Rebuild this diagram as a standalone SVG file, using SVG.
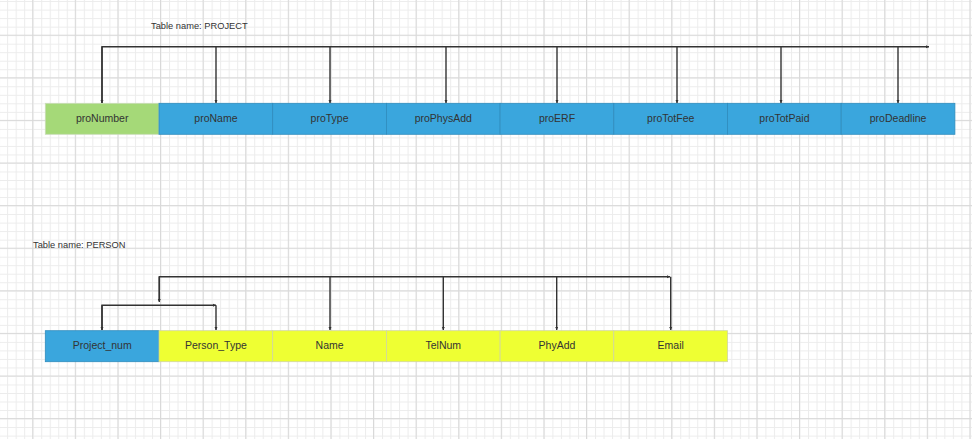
<svg xmlns="http://www.w3.org/2000/svg" width="972" height="439" viewBox="0 0 972 439">
  <defs>
    <pattern id="gridMinor" patternUnits="userSpaceOnUse" x="7.14" y="1.1" width="8.52" height="8.52">
      <path d="M0 0.5H8.52M0.5 0V8.52" fill="none" stroke="#ececec" stroke-width="1"/>
    </pattern>
    <pattern id="gridMajor" patternUnits="userSpaceOnUse" x="32.2" y="34.7" width="42.6" height="42.6">
      <path d="M0 0.5H42.6M0.5 0V42.6" fill="none" stroke="#d9d9d9" stroke-width="1"/>
    </pattern>
    <marker id="arrow" markerUnits="userSpaceOnUse" markerWidth="4" markerHeight="4" refX="3" refY="2" orient="auto">
      <path d="M0 0.5L3 2L0 3.5Z" fill="#333"/>
    </marker>
  </defs>
  <style>
    .cell text { font-family: "Liberation Sans", Arial, sans-serif; font-size: 10.5px; fill: #333; text-anchor: middle; dominant-baseline: central; }
    .blue { fill: #3aa6dd; stroke: #2f8cbd; stroke-width: 0.8; }
    .green { fill: #a5d978; stroke: #c9dcb8; stroke-width: 0.8; }
    .yellow { fill: #eeff33; stroke: #d0d6a0; stroke-width: 0.8; }
    .title { font-family: "Liberation Sans", Arial, sans-serif; font-size: 9.3px; fill: #333; }
    .link { fill: none; stroke: #333; stroke-width: 1.4; }
    .link.arrowed { marker-end: url(#arrow); }
  </style>

  <!-- background grid -->
  <rect width="972" height="439" fill="#ffffff"/>
  <rect width="972" height="439" fill="url(#gridMinor)"/>
  <rect width="972" height="439" fill="url(#gridMajor)"/>

  <!-- table titles -->
  <text class="title" x="151" y="29">Table name: PROJECT</text>
  <text class="title" x="33" y="247.5">Table name: PERSON</text>

  <!-- PROJECT table columns -->
  <g id="proNumber" class="cell"><rect class="green" x="45.3" y="103.3" width="113.7" height="31"/><text x="102.2" y="117.5">proNumber</text></g>
  <g id="proName" class="cell"><rect class="blue" x="159" y="103.3" width="113.7" height="31"/><text x="215.9" y="117.5">proName</text></g>
  <g id="proType" class="cell"><rect class="blue" x="272.7" y="103.3" width="113.7" height="31"/><text x="329.6" y="117.5">proType</text></g>
  <g id="proPhysAdd" class="cell"><rect class="blue" x="386.4" y="103.3" width="113.7" height="31"/><text x="443.3" y="117.5">proPhysAdd</text></g>
  <g id="proERF" class="cell"><rect class="blue" x="500.1" y="103.3" width="113.7" height="31"/><text x="557" y="117.5">proERF</text></g>
  <g id="proTotFee" class="cell"><rect class="blue" x="613.8" y="103.3" width="113.7" height="31"/><text x="670.7" y="117.5">proTotFee</text></g>
  <g id="proTotPaid" class="cell"><rect class="blue" x="727.5" y="103.3" width="113.7" height="31"/><text x="784.4" y="117.5">proTotPaid</text></g>
  <g id="proDeadline" class="cell"><rect class="blue" x="841.2" y="103.3" width="113.7" height="31"/><text x="898.1" y="117.5">proDeadline</text></g>

  <!-- PERSON table columns -->
  <g id="Project_num" class="cell"><rect class="blue" x="45.3" y="330.7" width="113.7" height="31"/><text x="102.2" y="345">Project_num</text></g>
  <g id="Person_Type" class="cell"><rect class="yellow" x="159" y="330.7" width="113.7" height="31"/><text x="215.9" y="345">Person_Type</text></g>
  <g id="Name" class="cell"><rect class="yellow" x="272.7" y="330.7" width="113.7" height="31"/><text x="329.6" y="345">Name</text></g>
  <g id="TelNum" class="cell"><rect class="yellow" x="386.4" y="330.7" width="113.7" height="31"/><text x="443.3" y="345">TelNum</text></g>
  <g id="PhyAdd" class="cell"><rect class="yellow" x="500.1" y="330.7" width="113.7" height="31"/><text x="557" y="345">PhyAdd</text></g>
  <g id="Email" class="cell"><rect class="yellow" x="613.8" y="330.7" width="113.7" height="31"/><text x="670.7" y="345">Email</text></g>

  <!-- dependency connectors -->
  <g id="connectors">
    <!-- PROJECT: key to every attribute -->
    <path class="link arrowed" d="M102 103V46.7H929"/>
    <path class="link arrowed" d="M102 46.7V103"/>
    <path class="link arrowed" d="M216 46.7V103"/>
    <path class="link arrowed" d="M330 46.7V103"/>
    <path class="link arrowed" d="M446 46.7V103"/>
    <path class="link arrowed" d="M557 46.7V103"/>
    <path class="link arrowed" d="M677 46.7V103"/>
    <path class="link arrowed" d="M781 46.7V103"/>
    <path class="link arrowed" d="M898 46.7V103"/>

    <!-- PERSON: composite key -->
    <path class="link arrowed" d="M102 330V305.3H216"/>
    <path class="link arrowed" d="M102 305.3V330"/>
    <path class="link arrowed" d="M216 305.3V330"/>

    <!-- PERSON: key group to attributes -->
    <path class="link arrowed" d="M159.3 301V276.7H670"/>
    <path class="link arrowed" d="M159.3 276.7V302"/>
    <path class="link arrowed" d="M330 276.7V330"/>
    <path class="link arrowed" d="M443.3 276.7V330"/>
    <path class="link arrowed" d="M556.7 276.7V330"/>
    <path class="link arrowed" d="M670.7 276.7V330"/>
  </g>
</svg>
